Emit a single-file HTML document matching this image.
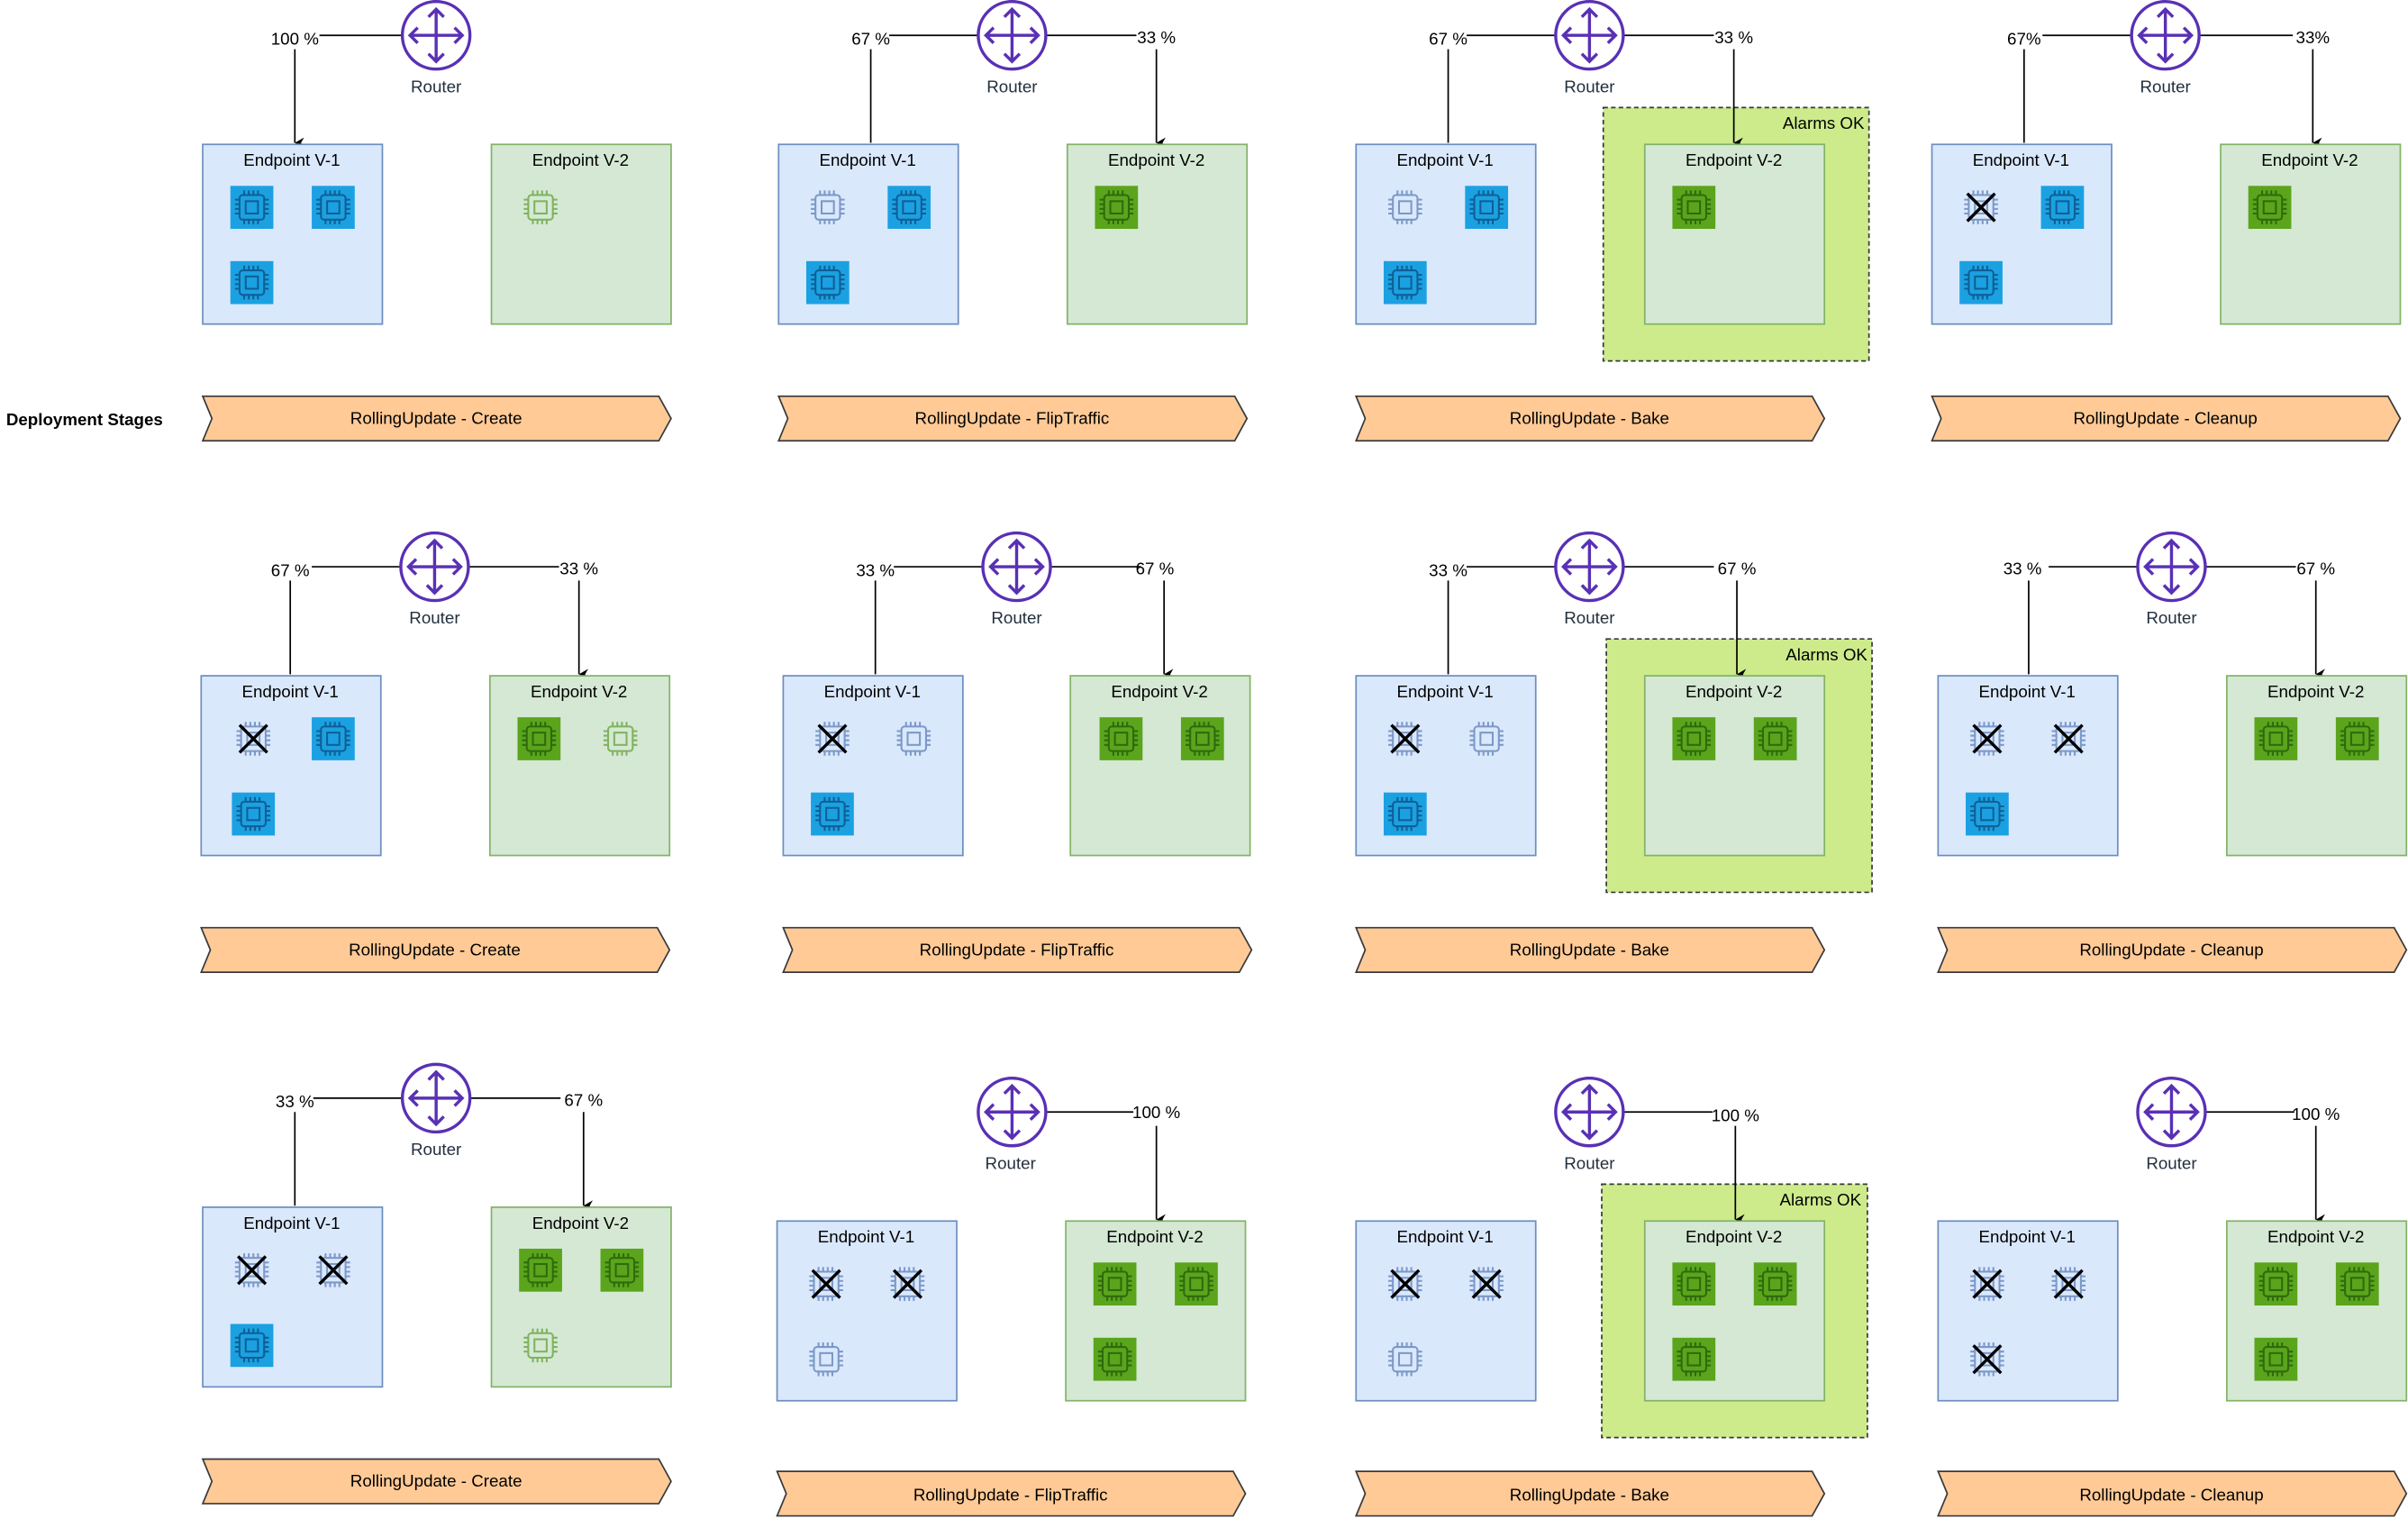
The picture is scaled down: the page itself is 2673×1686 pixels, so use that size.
<!DOCTYPE html>
<html><head><meta charset="utf-8">
<style>
html,body{margin:0;padding:0;background:#fff;}
svg{display:block;}
text{font-family:"Liberation Sans",Arial,sans-serif;font-size:11px;fill:#000;}
.c{text-anchor:middle;}
.rt{fill:#232f3e;}
</style></head><body>
<svg width="2673" height="1686" viewBox="0 0 1568 989" xmlns="http://www.w3.org/2000/svg">
<defs>
<marker id="ah" markerWidth="8" markerHeight="8" refX="4" refY="7" orient="auto" markerUnits="userSpaceOnUse">
<path d="M0.5,1 L4,7 L7.5,1 L4,3 Z" fill="#000"/></marker>
<g id="rt">
<circle cx="0" cy="0" r="22" fill="#fff" stroke="#5a30b5" stroke-width="2"/>
<path d="M0,-17 V17 M-17,0 H17 M-5,-12 L0,-17 L5,-12 M-5,12 L0,17 L5,12 M-12,-5 L-17,0 L-12,5 M12,-5 L17,0 L12,5" fill="none" stroke="#5a30b5" stroke-width="2"/>
</g>
<path id="pins" d="M9,3V6M12,3V6M15,3V6M18,3V6M9,22V25M12,22V25M15,22V25M18,22V25M3,9H6M3,12H6M3,15H6M3,18H6M22,9H25M22,12H25M22,15H25M22,18H25"/>
<g id="cb"><rect width="28" height="28" fill="#1ba1e2"/><g fill="none" stroke="#0e5f94" stroke-width="1.2"><rect x="6" y="6" width="16" height="16" rx="2"/><rect x="10" y="10" width="8" height="8"/><use href="#pins"/></g></g>
<g id="cg"><rect width="28" height="28" fill="#5aa51c"/><g fill="none" stroke="#2f6a0c" stroke-width="1.2"><rect x="6" y="6" width="16" height="16" rx="2"/><rect x="10" y="10" width="8" height="8"/><use href="#pins"/></g></g>
<g id="ob"><g fill="none" stroke="#7b98c7" stroke-width="1.2"><rect x="6" y="6" width="16" height="16" rx="2"/><rect x="10" y="10" width="8" height="8"/><use href="#pins"/></g></g>
<g id="og"><g fill="none" stroke="#7fb35e" stroke-width="1.2"><rect x="6" y="6" width="16" height="16" rx="2"/><rect x="10" y="10" width="8" height="8"/><use href="#pins"/></g></g>
<g id="xb"><use href="#ob"/><path d="M5,5 L23,23 M23,5 L5,23" stroke="#000" stroke-width="2"/></g>
<rect id="v1" width="117" height="117" fill="#dae8fc" stroke="#6c8ebf"/>
<rect id="v2" width="117" height="117" fill="#d5e8d4" stroke="#82b366"/>
<polygon id="stg" points="0,0 297,0 305,14.5 297,29 0,29 6,14.5" fill="#ffca96" stroke="#36393d"/>
<rect id="al" x="-27" y="-24" width="173" height="165" fill="#cdeb8b" stroke="#36393d" stroke-dasharray="3,2"/>
</defs>
<rect width="1568" height="989" fill="#fff"/>
<text x="4" y="277" style="font-weight:bold">Deployment Stages</text>

<!-- Row 1 -->
<g transform="translate(132,94)">
<path d="M76,-71 H130 M60,-62 V-1" stroke="#000" fill="none" marker-end="url(#ah)"/>
<text x="60" y="-65" class="c">100 %</text>
<use href="#rt" x="152" y="-71"/><text x="152" y="-34" class="c rt">Router</text>
<use href="#v1"/><use href="#v2" x="188"/>
<text x="58" y="14" class="c">Endpoint V-1</text><text x="246" y="14" class="c">Endpoint V-2</text>
<use href="#cb" x="18" y="27"/><use href="#cb" x="71" y="27"/><use href="#cb" x="18" y="76"/>
<use href="#og" x="206" y="27"/>
<use href="#stg" y="164"/><text x="152" y="182" class="c">RollingUpdate - Create</text>
</g>
<g transform="translate(507,94)">
<path d="M72,-71 H130 M174,-71 H233" stroke="#000" fill="none"/>
<path d="M60,-62 V-1 M246,-62 V-1" stroke="#000" fill="none" marker-end="url(#ah)"/>
<text x="60" y="-65" class="c">67 %</text><text x="246" y="-66" class="c">33 %</text>
<use href="#rt" x="152" y="-71"/><text x="152" y="-34" class="c rt">Router</text>
<use href="#v1"/><use href="#v2" x="188"/>
<text x="58" y="14" class="c">Endpoint V-1</text><text x="246" y="14" class="c">Endpoint V-2</text>
<use href="#ob" x="18" y="27"/><use href="#cb" x="71" y="27"/><use href="#cb" x="18" y="76"/>
<use href="#cg" x="206" y="27"/>
<use href="#stg" y="164"/><text x="152" y="182" class="c">RollingUpdate - FlipTraffic</text>
</g>
<g transform="translate(883,94)">
<use href="#al" x="188"/><text x="331" y="-10" style="text-anchor:end">Alarms OK</text>
<path d="M72,-71 H130 M174,-71 H233" stroke="#000" fill="none"/>
<path d="M60,-62 V-1 M246,-62 V-1" stroke="#000" fill="none" marker-end="url(#ah)"/>
<text x="60" y="-65" class="c">67 %</text><text x="246" y="-66" class="c">33 %</text>
<use href="#rt" x="152" y="-71"/><text x="152" y="-34" class="c rt">Router</text>
<use href="#v1"/><use href="#v2" x="188"/>
<text x="58" y="14" class="c">Endpoint V-1</text><text x="246" y="14" class="c">Endpoint V-2</text>
<use href="#ob" x="18" y="27"/><use href="#cb" x="71" y="27"/><use href="#cb" x="18" y="76"/>
<use href="#cg" x="206" y="27"/>
<use href="#stg" y="164"/><text x="152" y="182" class="c">RollingUpdate - Bake</text>
</g>
<g transform="translate(1258,94)">
<path d="M72,-71 H130 M174,-71 H235" stroke="#000" fill="none"/>
<path d="M60,-62 V-1 M248,-62 V-1" stroke="#000" fill="none" marker-end="url(#ah)"/>
<text x="60" y="-65" class="c">67%</text><text x="248" y="-66" class="c">33%</text>
<use href="#rt" x="152" y="-71"/><text x="152" y="-34" class="c rt">Router</text>
<use href="#v1"/><use href="#v2" x="188"/>
<text x="58" y="14" class="c">Endpoint V-1</text><text x="246" y="14" class="c">Endpoint V-2</text>
<use href="#xb" x="18" y="27"/><use href="#cb" x="71" y="27"/><use href="#cb" x="18" y="76"/>
<use href="#cg" x="206" y="27"/>
<use href="#stg" y="164"/><text x="152" y="182" class="c">RollingUpdate - Cleanup</text>
</g>

<!-- Row 2 -->
<g transform="translate(131,440)">
<path d="M72,-71 H130 M174,-71 H233" stroke="#000" fill="none"/>
<path d="M58,-62 V-1 M246,-62 V-1" stroke="#000" fill="none" marker-end="url(#ah)"/>
<text x="58" y="-65" class="c">67 %</text><text x="246" y="-66" class="c">33 %</text>
<use href="#rt" x="152" y="-71"/><text x="152" y="-34" class="c rt">Router</text>
<use href="#v1"/><use href="#v2" x="188"/>
<text x="58" y="14" class="c">Endpoint V-1</text><text x="246" y="14" class="c">Endpoint V-2</text>
<use href="#xb" x="20" y="27"/><use href="#cb" x="72" y="27"/><use href="#cb" x="20" y="76"/>
<use href="#cg" x="206" y="27"/><use href="#og" x="259" y="27"/>
<use href="#stg" y="164"/><text x="152" y="182" class="c">RollingUpdate - Create</text>
</g>
<g transform="translate(510,440)">
<path d="M72,-71 H130 M174,-71 H233" stroke="#000" fill="none"/>
<path d="M60,-62 V-1 M248,-62 V-1" stroke="#000" fill="none" marker-end="url(#ah)"/>
<text x="60" y="-65" class="c">33 %</text><text x="242" y="-66" class="c">67 %</text>
<use href="#rt" x="152" y="-71"/><text x="152" y="-34" class="c rt">Router</text>
<use href="#v1"/><use href="#v2" x="187"/>
<text x="58" y="14" class="c">Endpoint V-1</text><text x="245" y="14" class="c">Endpoint V-2</text>
<use href="#xb" x="18" y="27"/><use href="#ob" x="71" y="27"/><use href="#cb" x="18" y="76"/>
<use href="#cg" x="206" y="27"/><use href="#cg" x="259" y="27"/>
<use href="#stg" y="164"/><text x="152" y="182" class="c">RollingUpdate - FlipTraffic</text>
</g>
<g transform="translate(883,440)">
<use href="#al" x="190"/><text x="333" y="-10" style="text-anchor:end">Alarms OK</text>
<path d="M72,-71 H130 M174,-71 H233" stroke="#000" fill="none"/>
<path d="M60,-62 V-1 M248,-62 V-1" stroke="#000" fill="none" marker-end="url(#ah)"/>
<text x="60" y="-65" class="c">33 %</text><text x="248" y="-66" class="c">67 %</text>
<use href="#rt" x="152" y="-71"/><text x="152" y="-34" class="c rt">Router</text>
<use href="#v1"/><use href="#v2" x="188"/>
<text x="58" y="14" class="c">Endpoint V-1</text><text x="246" y="14" class="c">Endpoint V-2</text>
<use href="#xb" x="18" y="27"/><use href="#ob" x="71" y="27"/><use href="#cb" x="18" y="76"/>
<use href="#cg" x="206" y="27"/><use href="#cg" x="259" y="27"/>
<use href="#stg" y="164"/><text x="152" y="182" class="c">RollingUpdate - Bake</text>
</g>
<g transform="translate(1262,440)">
<path d="M72,-71 H130 M174,-71 H233" stroke="#000" fill="none"/>
<path d="M59,-62 V-1 M246,-62 V-1" stroke="#000" fill="none" marker-end="url(#ah)"/>
<text x="55" y="-66" class="c">33 %</text><text x="246" y="-66" class="c">67 %</text>
<use href="#rt" x="152" y="-71"/><text x="152" y="-34" class="c rt">Router</text>
<use href="#v1"/><use href="#v2" x="188"/>
<text x="58" y="14" class="c">Endpoint V-1</text><text x="246" y="14" class="c">Endpoint V-2</text>
<use href="#xb" x="18" y="27"/><use href="#xb" x="71" y="27"/><use href="#cb" x="18" y="76"/>
<use href="#cg" x="206" y="27"/><use href="#cg" x="259" y="27"/>
<use href="#stg" y="164"/><text x="152" y="182" class="c">RollingUpdate - Cleanup</text>
</g>

<!-- Row 3 -->
<g transform="translate(132,786)">
<path d="M72,-71 H130 M174,-71 H233" stroke="#000" fill="none"/>
<path d="M60,-62 V-1 M248,-62 V-1" stroke="#000" fill="none" marker-end="url(#ah)"/>
<text x="60" y="-65" class="c">33 %</text><text x="248" y="-66" class="c">67 %</text>
<use href="#rt" x="152" y="-71"/><text x="152" y="-34" class="c rt">Router</text>
<use href="#v1"/><use href="#v2" x="188"/>
<text x="58" y="14" class="c">Endpoint V-1</text><text x="246" y="14" class="c">Endpoint V-2</text>
<use href="#xb" x="18" y="27"/><use href="#xb" x="71" y="27"/><use href="#cb" x="18" y="76"/>
<use href="#cg" x="206" y="27"/><use href="#cg" x="259" y="27"/><use href="#og" x="206" y="76"/>
<use href="#stg" y="164"/><text x="152" y="182" class="c">RollingUpdate - Create</text>
</g>
<g transform="translate(506,795)">
<path d="M174,-71 H232" stroke="#000" fill="none"/>
<path d="M247,-62 V-1" stroke="#000" fill="none" marker-end="url(#ah)"/>
<text x="247" y="-67" class="c">100 %</text>
<use href="#rt" x="153" y="-71"/><text x="152" y="-34" class="c rt">Router</text>
<use href="#v1"/><use href="#v2" x="188"/>
<text x="58" y="14" class="c">Endpoint V-1</text><text x="246" y="14" class="c">Endpoint V-2</text>
<use href="#xb" x="18" y="27"/><use href="#xb" x="71" y="27"/><use href="#ob" x="18" y="76"/>
<use href="#cg" x="206" y="27"/><use href="#cg" x="259" y="27"/><use href="#cg" x="206" y="76"/>
<use href="#stg" y="163"/><text x="152" y="182" class="c">RollingUpdate - FlipTraffic</text>
</g>
<g transform="translate(883,795)">
<use href="#al" x="187"/><text x="329" y="-10" style="text-anchor:end">Alarms OK</text>
<path d="M174,-71 H232" stroke="#000" fill="none"/>
<path d="M247,-62 V-1" stroke="#000" fill="none" marker-end="url(#ah)"/>
<text x="247" y="-65" class="c">100 %</text>
<use href="#rt" x="152" y="-71"/><text x="152" y="-34" class="c rt">Router</text>
<use href="#v1"/><use href="#v2" x="188"/>
<text x="58" y="14" class="c">Endpoint V-1</text><text x="246" y="14" class="c">Endpoint V-2</text>
<use href="#xb" x="18" y="27"/><use href="#xb" x="71" y="27"/><use href="#ob" x="18" y="76"/>
<use href="#cg" x="206" y="27"/><use href="#cg" x="259" y="27"/><use href="#cg" x="206" y="76"/>
<use href="#stg" y="163"/><text x="152" y="182" class="c">RollingUpdate - Bake</text>
</g>
<g transform="translate(1262,795)">
<path d="M174,-71 H232" stroke="#000" fill="none"/>
<path d="M246,-62 V-1" stroke="#000" fill="none" marker-end="url(#ah)"/>
<text x="246" y="-66" class="c">100 %</text>
<use href="#rt" x="152" y="-71"/><text x="152" y="-34" class="c rt">Router</text>
<use href="#v1"/><use href="#v2" x="188"/>
<text x="58" y="14" class="c">Endpoint V-1</text><text x="246" y="14" class="c">Endpoint V-2</text>
<use href="#xb" x="18" y="27"/><use href="#xb" x="71" y="27"/><use href="#xb" x="18" y="76"/>
<use href="#cg" x="206" y="27"/><use href="#cg" x="259" y="27"/><use href="#cg" x="206" y="76"/>
<use href="#stg" y="163"/><text x="152" y="182" class="c">RollingUpdate - Cleanup</text>
</g>
</svg>
</body></html>
